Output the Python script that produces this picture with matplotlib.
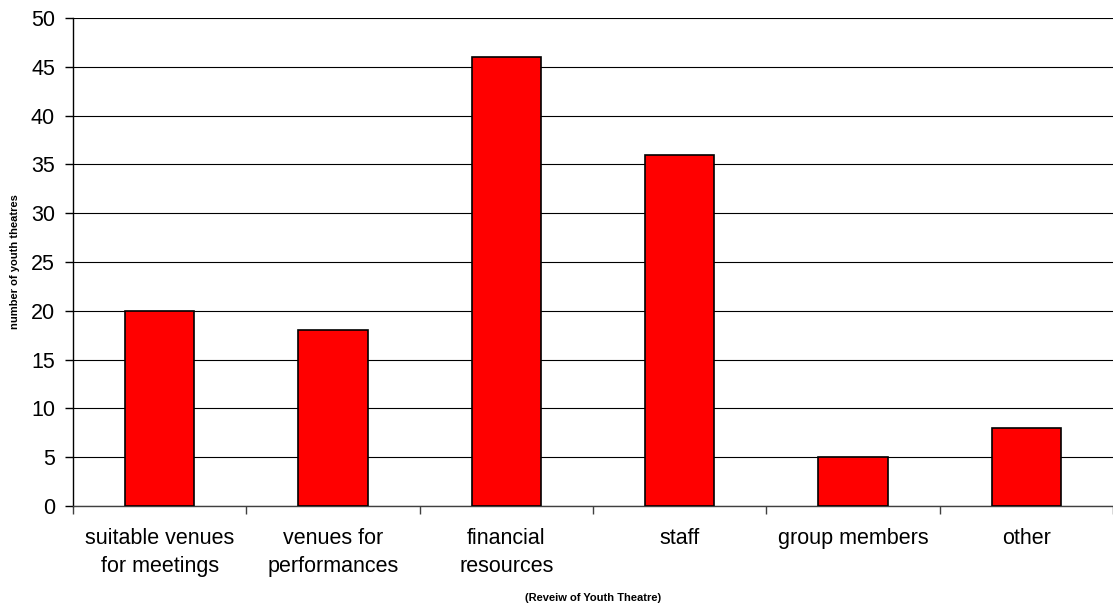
import numpy as np
import matplotlib.pyplot as plt

plt.rcParams['font.family'] = ['Liberation Sans', 'DejaVu Sans']

categories = ['suitable venues\nfor meetings', 'venues for\nperformances',
              'financial\nresources', 'staff', 'group members', 'other']
counts = [20, 18, 46, 36, 5, 8]

fig = plt.figure(figsize=(11.13, 6.06), dpi=100)
ax = fig.add_axes([73 / 1113, 100 / 606, 1 - 73 / 1113, 488 / 606])

x = np.arange(len(categories))
ax.bar(x, counts, width=0.4, color='#ff0000', edgecolor='black', linewidth=1.2, zorder=3)

ax.set_xlim(-0.5, len(categories) - 0.5)
ax.set_ylim(0, 50)
ax.set_yticks(np.arange(0, 51, 5))
ax.yaxis.grid(True, color='black', linewidth=0.8, zorder=0)

# category labels sit between the boundary ticks
ax.set_xticks(np.arange(-0.5, len(categories), 1))
ax.set_xticklabels([])
ax.set_xticks(x, minor=True)
ax.set_xticklabels(categories, minor=True, fontsize=15.5, linespacing=1.4)
ax.tick_params(axis='x', which='minor', length=0, pad=16)
ax.tick_params(axis='x', which='major', length=6, width=1, color='#404040')
ax.tick_params(axis='y', length=6, width=1, labelsize=15.5, pad=7)

for side in ['top', 'right']:
    ax.spines[side].set_visible(False)
ax.spines['left'].set_linewidth(1)
ax.spines['bottom'].set_color('#404040')
ax.spines['bottom'].set_linewidth(1)

ax.set_ylabel('number of youth theatres', fontsize=8, fontweight='bold', labelpad=8)
ax.set_xlabel('(Reveiw of Youth Theatre)', fontsize=8, fontweight='bold', labelpad=12)

fig.savefig('out.png', dpi=100)
